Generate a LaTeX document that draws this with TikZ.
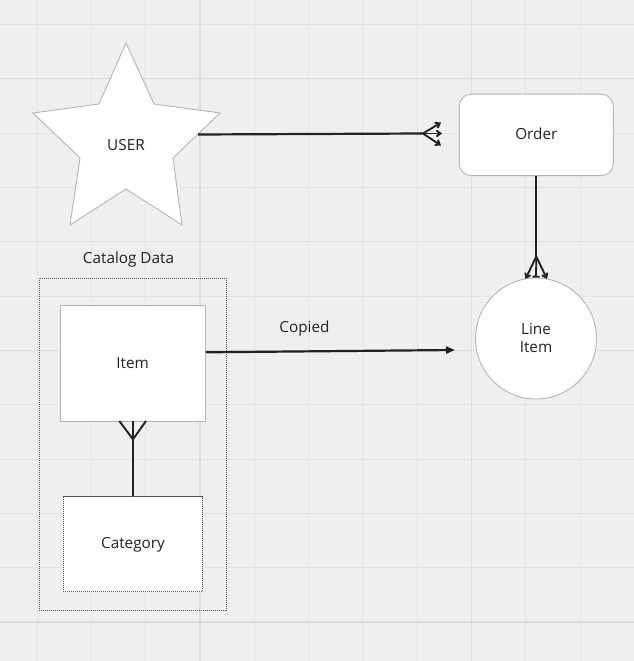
\documentclass[tikz,border=0pt]{standalone}
\usepackage{fontspec}
\setmainfont{Open Sans}
\usetikzlibrary{arrows.meta}
\definecolor{bg}{HTML}{EFEFEF}
\definecolor{gridminor}{HTML}{E3E3E3}
\definecolor{gridmajor}{HTML}{DCDCDC}
\definecolor{ink}{HTML}{222222}
\definecolor{edge}{HTML}{B4B4B4}
\definecolor{dotc}{HTML}{555555}
\tikzset{
  lbl/.style={font=\fontsize{15.3}{18}\selectfont, text=ink, inner sep=0pt},
  conn/.style={draw=ink, line width=2.2pt},
  prong/.style={draw=ink, line width=1.9pt, -{Straight Barb[length=4pt,width=6pt]}},
  tee/.style={draw=ink, line width=1.8pt, -{Bar[width=7pt]}},
  shapebox/.style={fill=white, draw=edge, line width=0.9pt},
  dotbox/.style={draw=dotc, line width=0.9pt, dash pattern=on 1.2pt off 0.8pt},
}
\begin{document}
\begin{tikzpicture}[x=1pt,y=-1pt]
\useasboundingbox (0,0) rectangle (634,661);
\fill[bg] (0,0) rectangle (634,661);
% grid
\foreach \g in {37,91.3,145.6,254.2,308.5,362.8,417.1,525.7,580}
  {\draw[gridminor, line width=1pt] (\g,0) -- (\g,661);}
\foreach \g in {24.5,133.2,187.5,241.8,296.1,404.7,459,513.3,567.6}
  {\draw[gridminor, line width=1pt] (0,\g) -- (634,\g);}
\foreach \g in {199.9,471.4}
  {\draw[gridmajor, line width=1.2pt] (\g,0) -- (\g,661);}
\foreach \g in {78.8,350.4,621.9}
  {\draw[gridmajor, line width=1.2pt] (0,\g) -- (634,\g);}

% USER star
\draw[shapebox] (126,43) -- (154,104) -- (220,113) -- (173,158) -- (182,225)
  -- (126,189) -- (70,225) -- (80,158) -- (33,113) -- (99,104) -- cycle;
\node[lbl] (user) at (126,145.2) {USER};
\coordinate (userR) at (198,134.5);

% Order
\node[shapebox, rounded corners=12pt, minimum width=154pt, minimum height=81.5pt,
  inner sep=0pt] (order) at (536.3,134.9) {};
\node[lbl] (orderT) at (536.3,134.2) {Order};

% Line Item
\node[shapebox, circle, minimum size=121pt, inner sep=0pt] (line) at (536,338.5) {};
\node[lbl, align=center] (lineT) at (536,338.3) {Line\\Item};

% Catalog container
\node[dotbox, minimum width=187pt, minimum height=332pt, inner sep=0pt]
  (catalog) at (132.5,444) {};
\node[lbl] (catT) at (128.5,260) {Catalog Data};

% Item
\node[shapebox, minimum width=145.3pt, minimum height=115.3pt, inner sep=0pt]
  (item) at (132.7,363.3) {};
\node[lbl] (itemT) at (132.7,363.3) {Item};

% Category
\node[fill=white, dotbox, minimum width=139.3pt, minimum height=95pt, inner sep=0pt]
  (cat) at (132.7,544.2) {};
\node[lbl] (catgT) at (133,545) {Category};

% USER -> Order (crow's foot with barbs)
\coordinate (oJ) at (423,133.5);
\coordinate (oT) at (441,122.5);
\coordinate (oM) at (442,133.5);
\coordinate (oB) at (441,145.5);
\draw[conn] (userR) -- (oJ);
\draw[prong] (oJ) -- (oT);
\draw[prong] (oJ) -- (oM);
\draw[prong] (oJ) -- (oB);

% Order -> Line Item
\coordinate (lJ) at (536.3,256.5);
\coordinate (lL) at (525.5,279);
\coordinate (lR) at (547,279);
\draw[conn] (order.south) -- (lJ);
\draw[prong] (lJ) -- (lL);
\draw[prong] (lJ) -- (lR);
\draw[tee] (lJ) -- (line.north);

% Item -> Line Item (Copied)
\coordinate (cpEnd) at (455,350);
\draw[conn, -{Triangle[length=9pt,width=7pt]}] (item.east |- 0,352.3) -- (cpEnd);
\node[lbl] (copT) at (304.5,328.3) {Copied};

% Category -> Item (crow's foot at Item)
\coordinate (iJ) at (133,439.3);
\draw[conn] (cat.north) -- (item.south);
\draw[conn, line width=1.9pt] (119.3,421) -- (iJ) -- (146,421);
\end{tikzpicture}
\end{document}
